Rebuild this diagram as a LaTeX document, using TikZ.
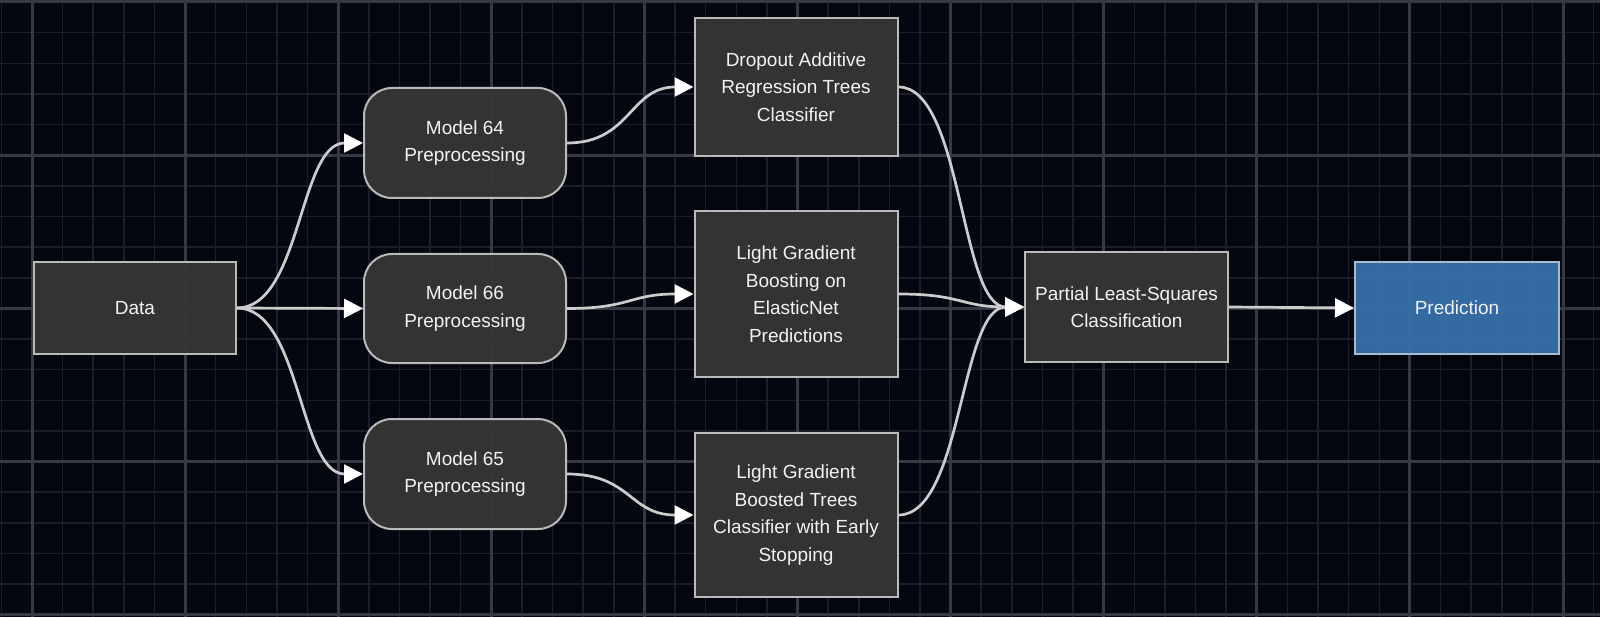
\documentclass[tikz,border=0pt]{standalone}
\usepackage{fontspec}
\setmainfont{Liberation Sans}
\usetikzlibrary{arrows.meta}
\definecolor{bg}{HTML}{04070F}
\definecolor{gridminor}{HTML}{1C1F2B}
\definecolor{gridmajor}{HTML}{363945}
\definecolor{boxfill}{HTML}{353535}
\definecolor{boxline}{HTML}{BABABA}
\definecolor{predfill}{HTML}{356FA8}
\definecolor{predline}{HTML}{A9BBCF}
\definecolor{wire}{HTML}{CCCCCC}
\definecolor{txt}{HTML}{F2F2F2}
\tikzset{
  minorline/.style={draw=gridminor, line width=1.5pt},
  majorline/.style={draw=gridmajor, line width=3pt},
  base/.style={draw=boxline, line width=2pt, fill=boxfill, fill opacity=0.96, text opacity=1,
    text=txt, inner sep=0pt, align=center, font=\fontsize{19}{27.5}\selectfont},
  sqbox/.style={base, rectangle},
  rbox/.style={base, rectangle, rounded corners=28pt},
  predbox/.style={base, fill=predfill, draw=predline},
  conn/.style={draw=wire, line width=2.7pt, -{Triangle[length=19pt,width=19pt,color=white]}}
}
\begin{document}
\begin{tikzpicture}[x=1pt,y=-1pt]
\useasboundingbox (0,0) rectangle (1600,617);
\fill[bg] (0,0) rectangle (1600,617);
% grid
\foreach \i in {-1,...,51} {\draw[minorline] ({32+\i*30.62},0) -- ({32+\i*30.62},617);}
\foreach \i in {0,...,20} {\draw[minorline] (0,{2+\i*30.64}) -- (1600,{2+\i*30.64});}
\foreach \i in {0,...,10} {\draw[majorline] ({32+\i*153.1},0) -- ({32+\i*153.1},617);}
\foreach \i in {0,...,4} {\draw[majorline] (0,{2+\i*153.2}) -- (1600,{2+\i*153.2});}
% nodes
\node[sqbox, minimum width=202pt, minimum height=92pt] (data) at (135,308) {Data};
\node[rbox, minimum width=202pt, minimum height=110pt] (m64) at (465,143) {Model 64\\Preprocessing};
\node[rbox, minimum width=202pt, minimum height=109pt] (m66) at (465,308.5) {Model 66\\Preprocessing};
\node[rbox, minimum width=202pt, minimum height=110pt] (m65) at (465,474) {Model 65\\Preprocessing};
\node[sqbox, minimum width=203pt, minimum height=138pt] (dart) at (796,87) {Dropout Additive\\Regression Trees\\Classifier};
\node[sqbox, minimum width=203pt, minimum height=166pt] (lgb) at (796,294) {Light Gradient\\Boosting on\\ElasticNet\\Predictions};
\node[sqbox, minimum width=203pt, minimum height=164pt] (lgbt) at (796,515) {Light Gradient\\Boosted Trees\\Classifier with Early\\Stopping};
\node[sqbox, minimum width=203pt, minimum height=110pt] (pls) at (1126.5,307) {Partial Least-Squares\\Classification};
\node[predbox, minimum width=204pt, minimum height=92pt] (pred) at (1457,308) {Prediction};
% connectors
\draw[conn] (data.east) .. controls +(64,0) and +(-64,0) .. (m64.west);
\draw[conn] (data.east) -- (m66.west);
\draw[conn] (data.east) .. controls +(64,0) and +(-64,0) .. (m65.west);
\draw[conn] (m64.east) .. controls +(64,0) and +(-64,0) .. (dart.west);
\draw[conn] (m66.east) .. controls +(64,0) and +(-64,0) .. (lgb.west);
\draw[conn] (m65.east) .. controls +(64,0) and +(-64,0) .. (lgbt.west);
\draw[conn] (dart.east) .. controls +(64,0) and +(-64,0) .. (pls.west);
\draw[conn] (lgb.east) .. controls +(64,0) and +(-64,0) .. (pls.west);
\draw[conn] (lgbt.east) .. controls +(64,0) and +(-64,0) .. (pls.west);
\draw[conn] (pls.east) -- (pred.west);
\end{tikzpicture}
\end{document}
